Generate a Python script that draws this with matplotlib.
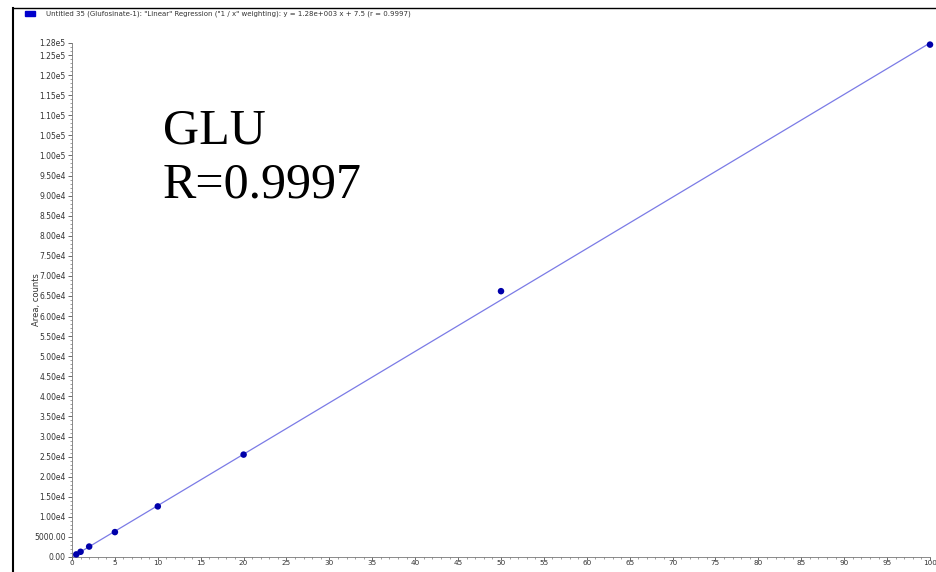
import matplotlib
matplotlib.use("Agg")
import matplotlib.pyplot as plt
import numpy as np
from matplotlib.lines import Line2D
from matplotlib.patches import Rectangle
from matplotlib.ticker import MultipleLocator, FixedLocator

conc = [0.5, 1, 2, 5, 10, 20, 50, 100]
area = [650, 1300, 2600, 6200, 12600, 25500, 66200, 127600]
slope = 1280.0
intercept = 7.5
ytick_vals = [0, 5000, 10000, 15000, 20000, 25000, 30000, 35000, 40000, 45000, 50000,
              55000, 60000, 65000, 70000, 75000, 80000, 85000, 90000, 95000, 100000,
              105000, 110000, 115000, 120000, 125000, 128000]
ytick_labels = ["0.00", "5000.00", "1.00e4", "1.50e4", "2.00e4", "2.50e4", "3.00e4", "3.50e4",
                "4.00e4", "4.50e4", "5.00e4", "5.50e4", "6.00e4", "6.50e4", "7.00e4", "7.50e4",
                "8.00e4", "8.50e4", "9.00e4", "9.50e4", "1.00e5", "1.05e5", "1.10e5", "1.15e5",
                "1.20e5", "1.25e5", "1.28e5"]
xtick_vals = list(range(0, 101, 5))
title = 'Untitled 35 (Glufosinate-1): "Linear" Regression ("1 / x" weighting): y = 1.28e+003 x + 7.5 (r = 0.9997)'

W, H = 937, 572
fig = plt.figure(figsize=(W / 100, H / 100), dpi=100)
ax = fig.add_axes([72 / W, 15 / H, 858 / W, 514 / H])

xs = np.array([0, 100])
ax.plot(xs, slope * xs + intercept, color="#7b7be6", lw=0.9, zorder=2)
ax.scatter(conc, area, s=22, color="#0000aa", zorder=3, edgecolors="none", clip_on=False)

ax.set_xlim(0, 100)
ax.set_ylim(0, 128000)
ax.yaxis.set_major_locator(FixedLocator(ytick_vals))
ax.set_yticklabels(ytick_labels)
ax.yaxis.set_minor_locator(MultipleLocator(1000))
ax.xaxis.set_major_locator(FixedLocator(xtick_vals))
ax.set_xticklabels([str(v) for v in xtick_vals])
ax.xaxis.set_minor_locator(MultipleLocator(1))

for s in ["top", "right"]:
    ax.spines[s].set_visible(False)
for s in ["left", "bottom"]:
    ax.spines[s].set_color("#777777")
    ax.spines[s].set_linewidth(0.6)
ax.tick_params(axis="both", which="major", length=3, width=0.6, color="#555555",
               labelsize=5.5, labelcolor="#333333", pad=1.5)
ax.tick_params(axis="x", which="major", length=2, pad=0.5, labelsize=5.2)
ax.tick_params(axis="both", which="minor", length=1.5, width=0.5, color="#777777")
ax.set_ylabel("Area, counts", fontsize=6, color="#333333")
ax.yaxis.set_label_coords(-0.036, 0.5)

ax.text(163 / W, 1 - 158 / H, "GLU\nR=0.9997", transform=fig.transFigure,
        fontfamily="Liberation Serif", fontsize=36, color="black",
        va="center", ha="left", linespacing=1.2)

# Frame lines
fig.add_artist(Line2D([13 / W, 13 / W], [0, 1 - 8 / H], color="black", lw=1.5,
                      transform=fig.transFigure))
fig.add_artist(Line2D([13 / W, 1], [1 - 8 / H, 1 - 8 / H], color="black", lw=1.0,
                      transform=fig.transFigure))
# Legend marker and title
fig.add_artist(Rectangle((25 / W, 1 - 16 / H), 10 / W, 5 / H, color="#0000cc",
                         transform=fig.transFigure))
fig.text(46 / W, 1 - 14 / H, title, fontsize=5, color="#333333", va="center", ha="left")

fig.savefig("out.png", dpi=100)
